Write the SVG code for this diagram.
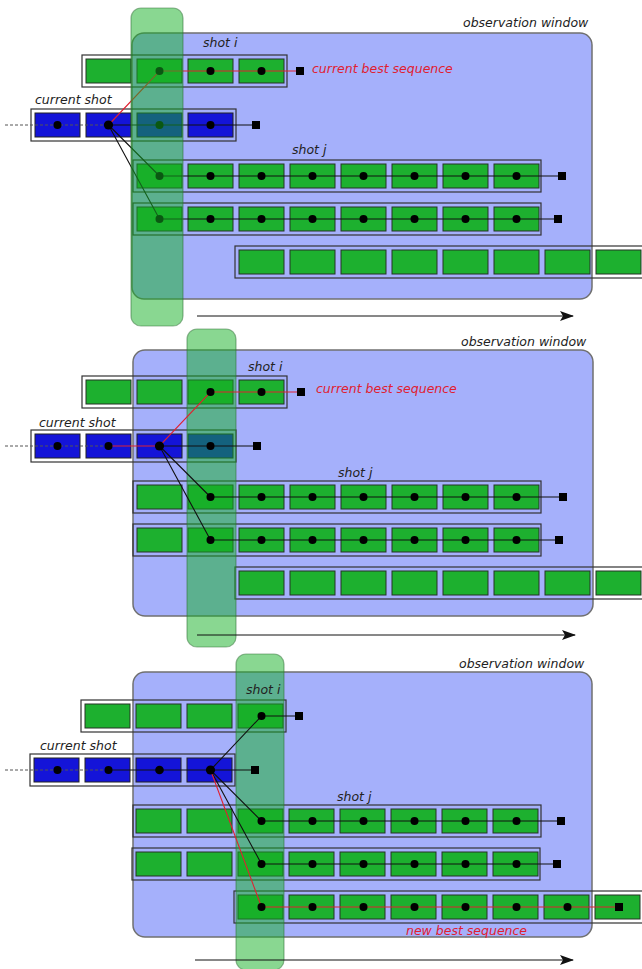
<svg xmlns="http://www.w3.org/2000/svg" width="642" height="969" viewBox="0 0 642 969">
<defs>
<style>
.win{fill:#a5b0fb;stroke:#707070;stroke-width:1.5}
.band{fill:#14b024;fill-opacity:0.5;stroke:#2f6f35;stroke-opacity:0.5;stroke-width:1.2}
.box{fill:none;stroke:#333;stroke-width:1.2}
.g{fill:#1db02f;stroke:#263326;stroke-width:1}
.b{fill:#1414d8;stroke:#222;stroke-width:1}
.ln{fill:none;stroke:#111;stroke-width:1.1}
.rd{fill:none;stroke:#e02030;stroke-width:1.1}
.ds{fill:none;stroke:#555;stroke-width:1;stroke-dasharray:3 2}
.ar{fill:none;stroke:#111;stroke-width:1}
.t{font-family:'DejaVu Sans',sans-serif;font-style:italic;font-size:12.5px;fill:#222}
.tr{font-family:'DejaVu Sans',sans-serif;font-style:italic;font-size:12.5px;fill:#e02030}
</style>
<marker id="arr" viewBox="-14 -6 16 12" refX="0" refY="0" markerWidth="16" markerHeight="12" markerUnits="userSpaceOnUse" orient="auto">
<path d="M1,0 L-13,-5 L-10,0 L-13,5 z" fill="#111"/>
</marker>
<rect id="gc" class="g" width="45" height="24"/>
<rect id="bc" class="b" width="45" height="24"/>
<rect id="sq" x="-4" y="-4" width="8" height="8" fill="#000"/>
</defs>
<rect width="642" height="969" fill="#fff"/>

<!-- ================= PANEL 1 ================= -->
<g id="panel1">
<g id="p1-window"><rect class="win" x="132" y="33" width="460" height="266" rx="12"/><text class="t" x="463" y="27">observation window</text></g>
<g id="p1-shot-i">
<text class="t" x="203" y="47">shot i</text>
<rect class="box" x="82" y="55" width="205" height="32"/>
<use href="#gc" x="86" y="59"/><use href="#gc" x="137" y="59"/><use href="#gc" x="188" y="59"/><use href="#gc" x="239" y="59"/>
</g>
<g id="p1-current-shot">
<text class="t" x="35" y="104">current shot</text>
<rect class="box" x="31" y="109" width="205" height="32"/>
<use href="#bc" x="35" y="113"/><use href="#bc" x="86" y="113"/><use href="#bc" x="137" y="113"/><use href="#bc" x="188" y="113"/>
</g>
<g id="p1-shot-j">
<text class="t" x="292" y="154">shot j</text>
<rect class="box" x="133" y="160" width="408" height="32"/>
<use href="#gc" x="137" y="164"/><use href="#gc" x="188" y="164"/><use href="#gc" x="239" y="164"/><use href="#gc" x="290" y="164"/><use href="#gc" x="341" y="164"/><use href="#gc" x="392" y="164"/><use href="#gc" x="443" y="164"/><use href="#gc" x="494" y="164"/>
</g>
<g id="p1-shot-k">
<rect class="box" x="133" y="203" width="408" height="32"/>
<use href="#gc" x="137" y="207"/><use href="#gc" x="188" y="207"/><use href="#gc" x="239" y="207"/><use href="#gc" x="290" y="207"/><use href="#gc" x="341" y="207"/><use href="#gc" x="392" y="207"/><use href="#gc" x="443" y="207"/><use href="#gc" x="494" y="207"/>
</g>
<g id="p1-shot-l">
<rect class="box" x="235" y="246" width="420" height="32"/>
<use href="#gc" x="239" y="250"/><use href="#gc" x="290" y="250"/><use href="#gc" x="341" y="250"/><use href="#gc" x="392" y="250"/><use href="#gc" x="443" y="250"/><use href="#gc" x="494" y="250"/><use href="#gc" x="545" y="250"/><use href="#gc" x="596" y="250"/>
</g>
<g id="p1-connectors">
<path class="ds" d="M5,125 H108.5"/>
<path class="ln" d="M108.5,125 H256"/>
<path class="ln" d="M108.5,125 L159.5,176 M108.5,125 L159.5,219"/>
<path class="ln" d="M159.5,176 H562 M159.5,219 H558"/>
<path class="rd" d="M108.5,125 L159.5,71 H300"/>
<g fill="#000">
<circle cx="159.5" cy="71" r="4"/><circle cx="210.5" cy="71" r="4"/><circle cx="261.5" cy="71" r="4"/>
<circle cx="57.5" cy="125" r="4"/><circle cx="108.5" cy="125" r="4.6"/><circle cx="159.5" cy="125" r="4"/><circle cx="210.5" cy="125" r="4"/>
<circle cx="159.5" cy="176" r="4"/><circle cx="210.5" cy="176" r="4"/><circle cx="261.5" cy="176" r="4"/><circle cx="312.5" cy="176" r="4"/><circle cx="363.5" cy="176" r="4"/><circle cx="414.5" cy="176" r="4"/><circle cx="465.5" cy="176" r="4"/><circle cx="516.5" cy="176" r="4"/>
<circle cx="159.5" cy="219" r="4"/><circle cx="210.5" cy="219" r="4"/><circle cx="261.5" cy="219" r="4"/><circle cx="312.5" cy="219" r="4"/><circle cx="363.5" cy="219" r="4"/><circle cx="414.5" cy="219" r="4"/><circle cx="465.5" cy="219" r="4"/><circle cx="516.5" cy="219" r="4"/>
</g>
<use href="#sq" x="300" y="71"/><use href="#sq" x="256" y="125"/><use href="#sq" x="562" y="176"/><use href="#sq" x="558" y="219"/>
<path class="ar" d="M197,316 H573" marker-end="url(#arr)"/>
</g>
<g id="p1-band"><rect class="band" x="131" y="8" width="52" height="318" rx="10"/></g>
<text class="tr" x="312" y="73">current best sequence</text>
</g>

<!-- ================= PANEL 2 ================= -->
<g id="panel2">
<g id="p2-window"><rect class="win" x="133" y="350" width="460" height="266" rx="12"/><text class="t" x="461" y="346">observation window</text></g>
<g id="p2-shot-i">
<text class="t" x="248" y="371">shot i</text>
<rect class="box" x="82" y="376" width="205" height="32"/>
<use href="#gc" x="86" y="380"/><use href="#gc" x="137" y="380"/><use href="#gc" x="188" y="380"/><use href="#gc" x="239" y="380"/>
</g>
<g id="p2-current-shot">
<text class="t" x="39" y="427">current shot</text>
<rect class="box" x="31" y="430" width="205" height="32"/>
<use href="#bc" x="35" y="434"/><use href="#bc" x="86" y="434"/><use href="#bc" x="137" y="434"/><use href="#bc" x="188" y="434"/>
</g>
<g id="p2-shot-j">
<text class="t" x="338" y="477">shot j</text>
<rect class="box" x="133" y="481" width="408" height="32"/>
<use href="#gc" x="137" y="485"/><use href="#gc" x="188" y="485"/><use href="#gc" x="239" y="485"/><use href="#gc" x="290" y="485"/><use href="#gc" x="341" y="485"/><use href="#gc" x="392" y="485"/><use href="#gc" x="443" y="485"/><use href="#gc" x="494" y="485"/>
</g>
<g id="p2-shot-k">
<rect class="box" x="133" y="524" width="408" height="32"/>
<use href="#gc" x="137" y="528"/><use href="#gc" x="188" y="528"/><use href="#gc" x="239" y="528"/><use href="#gc" x="290" y="528"/><use href="#gc" x="341" y="528"/><use href="#gc" x="392" y="528"/><use href="#gc" x="443" y="528"/><use href="#gc" x="494" y="528"/>
</g>
<g id="p2-shot-l">
<rect class="box" x="235" y="567" width="420" height="32"/>
<use href="#gc" x="239" y="571"/><use href="#gc" x="290" y="571"/><use href="#gc" x="341" y="571"/><use href="#gc" x="392" y="571"/><use href="#gc" x="443" y="571"/><use href="#gc" x="494" y="571"/><use href="#gc" x="545" y="571"/><use href="#gc" x="596" y="571"/>
</g>
<g id="p2-band"><rect class="band" x="187" y="329" width="49" height="318" rx="10"/></g>
<g id="p2-connectors">
<path class="ds" d="M5,446 H108.5"/>
<path class="ln" d="M159.5,446 H257"/>
<path class="ln" d="M159.5,446 L210.5,497 M159.5,446 L210.5,540"/>
<path class="ln" d="M210.5,497 H563 M210.5,540 H559"/>
<path class="rd" d="M108.5,446 H159.5 L210.5,392 H301"/>
<g fill="#000">
<circle cx="210.5" cy="392" r="4"/><circle cx="261.5" cy="392" r="4"/>
<circle cx="57.5" cy="446" r="4"/><circle cx="108.5" cy="446" r="4"/><circle cx="159.5" cy="446" r="4.6"/><circle cx="210.5" cy="446" r="4"/>
<circle cx="210.5" cy="497" r="4"/><circle cx="261.5" cy="497" r="4"/><circle cx="312.5" cy="497" r="4"/><circle cx="363.5" cy="497" r="4"/><circle cx="414.5" cy="497" r="4"/><circle cx="465.5" cy="497" r="4"/><circle cx="516.5" cy="497" r="4"/>
<circle cx="210.5" cy="540" r="4"/><circle cx="261.5" cy="540" r="4"/><circle cx="312.5" cy="540" r="4"/><circle cx="363.5" cy="540" r="4"/><circle cx="414.5" cy="540" r="4"/><circle cx="465.5" cy="540" r="4"/><circle cx="516.5" cy="540" r="4"/>
</g>
<use href="#sq" x="301" y="392"/><use href="#sq" x="257" y="446"/><use href="#sq" x="563" y="497"/><use href="#sq" x="559" y="540"/>
<path class="ar" d="M197,635 H575" marker-end="url(#arr)"/>
</g>
<text class="tr" x="316" y="393">current best sequence</text>
</g>

<!-- ================= PANEL 3 ================= -->
<g id="panel3">
<g id="p3-window"><rect class="win" x="133" y="672" width="459" height="265" rx="12"/><text class="t" x="459" y="668">observation window</text></g>
<g id="p3-shot-i">
<rect class="box" x="81" y="700" width="205" height="32"/>
<use href="#gc" x="85" y="704"/><use href="#gc" x="136" y="704"/><use href="#gc" x="187" y="704"/><use href="#gc" x="238" y="704"/>
</g>
<g id="p3-current-shot">
<text class="t" x="40" y="750">current shot</text>
<rect class="box" x="30" y="754" width="205" height="32"/>
<use href="#bc" x="34" y="758"/><use href="#bc" x="85" y="758"/><use href="#bc" x="136" y="758"/><use href="#bc" x="187" y="758"/>
</g>
<g id="p3-shot-j">
<text class="t" x="337" y="801">shot j</text>
<rect class="box" x="133" y="805" width="408" height="32"/>
<use href="#gc" x="136" y="809"/><use href="#gc" x="187" y="809"/><use href="#gc" x="238" y="809"/><use href="#gc" x="289" y="809"/><use href="#gc" x="340" y="809"/><use href="#gc" x="391" y="809"/><use href="#gc" x="442" y="809"/><use href="#gc" x="493" y="809"/>
</g>
<g id="p3-shot-k">
<rect class="box" x="132" y="848" width="408" height="32"/>
<use href="#gc" x="136" y="852"/><use href="#gc" x="187" y="852"/><use href="#gc" x="238" y="852"/><use href="#gc" x="289" y="852"/><use href="#gc" x="340" y="852"/><use href="#gc" x="391" y="852"/><use href="#gc" x="442" y="852"/><use href="#gc" x="493" y="852"/>
</g>
<g id="p3-shot-l">
<rect class="box" x="234" y="891" width="420" height="32"/>
<use href="#gc" x="238" y="895"/><use href="#gc" x="289" y="895"/><use href="#gc" x="340" y="895"/><use href="#gc" x="391" y="895"/><use href="#gc" x="442" y="895"/><use href="#gc" x="493" y="895"/><use href="#gc" x="544" y="895"/><use href="#gc" x="595" y="895"/>
</g>
<g id="p3-band"><rect class="band" x="236" y="654" width="48" height="316" rx="10"/></g>
<g id="p3-connectors">
<path class="ds" d="M5,770 H108.5"/>
<path class="ln" d="M108.5,770 H255" stroke-width="1.6"/>
<path class="ln" d="M210.5,770 L261.5,716 H299"/>
<path class="ln" d="M210.5,770 L261.5,821 M210.5,770 L261.5,864"/>
<path class="ln" d="M261.5,821 H561 M261.5,864 H557"/>
<path class="rd" d="M210.5,770 L261.5,907 H619"/>
<g fill="#000">
<circle cx="261.5" cy="716" r="4"/>
<circle cx="57.5" cy="770" r="4"/><circle cx="108.5" cy="770" r="4"/><circle cx="159.5" cy="770" r="4.3"/><circle cx="210.5" cy="770" r="4.6"/>
<circle cx="261.5" cy="821" r="4"/><circle cx="312.5" cy="821" r="4"/><circle cx="363.5" cy="821" r="4"/><circle cx="414.5" cy="821" r="4"/><circle cx="465.5" cy="821" r="4"/><circle cx="516.5" cy="821" r="4"/>
<circle cx="261.5" cy="864" r="4"/><circle cx="312.5" cy="864" r="4"/><circle cx="363.5" cy="864" r="4"/><circle cx="414.5" cy="864" r="4"/><circle cx="465.5" cy="864" r="4"/><circle cx="516.5" cy="864" r="4"/>
<circle cx="261.5" cy="907" r="4"/><circle cx="312.5" cy="907" r="4"/><circle cx="363.5" cy="907" r="4"/><circle cx="414.5" cy="907" r="4"/><circle cx="465.5" cy="907" r="4"/><circle cx="516.5" cy="907" r="4"/><circle cx="567.5" cy="907" r="4"/>
</g>
<use href="#sq" x="299" y="716"/><use href="#sq" x="255" y="770"/><use href="#sq" x="561" y="821"/><use href="#sq" x="557" y="864"/><use href="#sq" x="619" y="907"/>
<path class="ar" d="M195,960 H573" marker-end="url(#arr)"/>
</g>
<text class="t" x="246" y="694">shot i</text>
<text class="tr" x="406" y="935">new best sequence</text>
</g>
</svg>
